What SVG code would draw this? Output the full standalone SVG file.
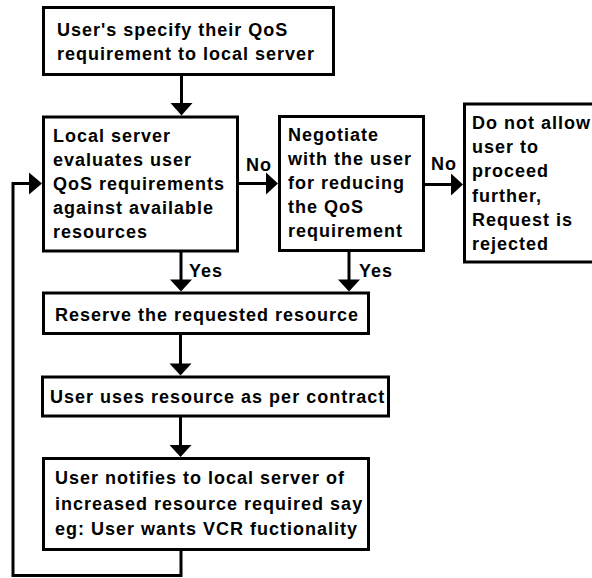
<svg xmlns="http://www.w3.org/2000/svg" width="592" height="578" viewBox="0 0 592 578">
<style>
.box{fill:#fff;stroke:#000;stroke-width:3}
.t{font-family:"Liberation Sans",Arial,sans-serif;font-weight:bold;font-size:18px;letter-spacing:1px;fill:#000}
.ln{fill:none;stroke:#000;stroke-width:3}
.ah{fill:#000;stroke:none}
</style>
<rect width="592" height="578" fill="#fff"/>
<g id="connectors">
<line class="ln" x1="181.5" y1="76" x2="181.5" y2="104"/>
<polygon class="ah" points="170.5,103 192.5,103 181.5,115.5"/>
<line class="ln" x1="239" y1="183.5" x2="267" y2="183.5"/>
<polygon class="ah" points="266,172.5 266,194.5 278,183.5"/>
<text class="t" x="246" y="171">No</text>
<line class="ln" x1="425" y1="184.5" x2="452" y2="184.5"/>
<polygon class="ah" points="451,173.5 451,195.5 463,184.5"/>
<text class="t" x="431" y="170">No</text>
<line class="ln" x1="181" y1="252" x2="181" y2="281"/>
<polygon class="ah" points="170,279.5 192,279.5 181,291.5"/>
<text class="t" x="189" y="277">Yes</text>
<line class="ln" x1="349" y1="252" x2="349" y2="281"/>
<polygon class="ah" points="338,279.5 360,279.5 349,291.5"/>
<text class="t" x="359" y="277">Yes</text>
<line class="ln" x1="180.5" y1="335" x2="180.5" y2="365"/>
<polygon class="ah" points="169.5,363.5 191.5,363.5 180.5,375.5"/>
<line class="ln" x1="180.5" y1="417" x2="180.5" y2="446"/>
<polygon class="ah" points="169.5,445 191.5,445 180.5,457"/>
<polyline class="ln" points="181,551 181,575.5 13,575.5 13,183.5 30,183.5"/>
<polygon class="ah" points="29,172.5 29,194.5 42,183.5"/>
</g>
<g id="n1">
<rect class="box" x="43.5" y="7.5" width="290" height="67"/>
<text class="t" x="57" y="36">User's specify their QoS</text>
<text class="t" x="57" y="60">requirement to local server</text>
</g>
<g id="n2">
<rect class="box" x="43.5" y="117" width="194" height="134"/>
<text class="t" x="53" y="142">Local server</text>
<text class="t" x="53" y="166">evaluates user</text>
<text class="t" x="53" y="190">QoS requirements</text>
<text class="t" x="53" y="214">against available</text>
<text class="t" x="53" y="238">resources</text>
</g>
<g id="n3">
<rect class="box" x="279.5" y="116.5" width="144" height="134"/>
<text class="t" x="288" y="141">Negotiate</text>
<text class="t" x="288" y="165">with the user</text>
<text class="t" x="288" y="189">for reducing</text>
<text class="t" x="288" y="213">the QoS</text>
<text class="t" x="288" y="237">requirement</text>
</g>
<g id="n4">
<rect class="box" x="464.5" y="104" width="140" height="158"/>
<text class="t" x="472" y="129">Do not allow</text>
<text class="t" x="472" y="153">user to</text>
<text class="t" x="472" y="177">proceed</text>
<text class="t" x="472" y="202">further,</text>
<text class="t" x="472" y="226">Request is</text>
<text class="t" x="472" y="250">rejected</text>
</g>
<g id="n5">
<rect class="box" x="43.5" y="293" width="325" height="40.5"/>
<text class="t" x="55" y="321">Reserve the requested resource</text>
</g>
<g id="n6">
<rect class="box" x="42.5" y="377" width="346" height="39"/>
<text class="t" x="50" y="403">User uses resource as per contract</text>
</g>
<g id="n7">
<rect class="box" x="43.5" y="458.5" width="325" height="91"/>
<text class="t" x="55" y="484">User notifies to local server of</text>
<text class="t" x="55" y="510">increased resource required say</text>
<text class="t" x="55" y="535">eg: User wants VCR fuctionality</text>
</g>
</svg>
